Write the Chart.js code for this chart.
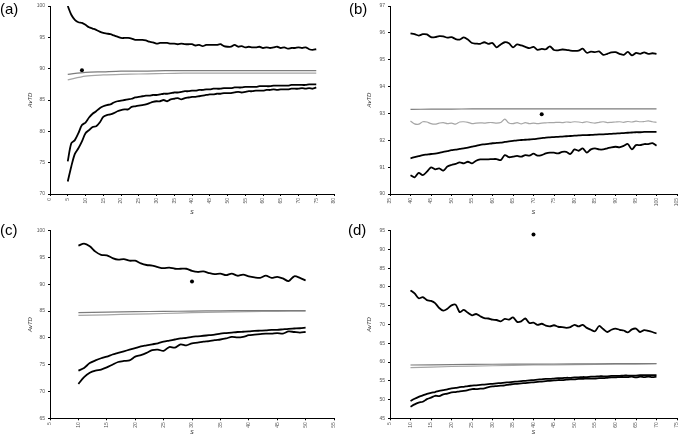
<!DOCTYPE html>
<html>
<head>
<meta charset="utf-8">
<script src="https://cdn.jsdelivr.net/npm/chart.js@4/dist/chart.umd.min.js"></script>
<style>
  body { margin: 0; background: #fff; width: 685px; height: 448px; position: relative; overflow: hidden;
         font-family: "Liberation Sans", Arial, sans-serif; }
  canvas { position: absolute; }
  .tag { position: absolute; font-size: 15px; line-height: 1; color: #000; }
</style>
</head>
<body>
<canvas id="chartA" width="342" height="222" style="left:0;top:0"></canvas>
<canvas id="chartB" width="343" height="222" style="left:342px;top:0"></canvas>
<canvas id="chartC" width="342" height="226" style="left:0;top:222px"></canvas>
<canvas id="chartD" width="343" height="226" style="left:342px;top:222px"></canvas>
<div class="tag" style="left:0;top:1px">(a)</div>
<div class="tag" style="left:349px;top:1px">(b)</div>
<div class="tag" style="left:0;top:222px">(c)</div>
<div class="tag" style="left:348px;top:222px">(d)</div>
<script>
// ---- panel (a) ----
const aUpper = [100.0, 98.6, 97.8, 97.4, 97.3, 97.0, 96.6, 96.4, 96.2, 95.9, 95.7, 95.6, 95.5, 95.3, 95.1, 94.9,
  94.9, 94.9, 94.8, 94.6, 94.6, 94.6, 94.5, 94.3, 94.2, 94.0, 94.1, 94.1, 94.1, 94.0, 94.0, 93.9, 94.0, 93.9,
  93.9, 93.9, 93.7, 93.8, 93.6, 93.8, 93.8, 93.8, 93.8, 93.9, 93.6, 93.5, 93.5, 93.8, 93.5, 93.6, 93.4, 93.5,
  93.4, 93.4, 93.5, 93.3, 93.4, 93.3, 93.4, 93.5, 93.3, 93.4, 93.2, 93.3, 93.3, 93.4, 93.3, 93.4, 93.1, 93.0, 93.1];
const aLow1 = [75.2, 78.1, 78.6, 79.7, 81.0, 81.4, 82.2, 82.8, 83.2, 83.7, 84.0, 84.2, 84.3, 84.6, 84.8, 84.9,
  85.0, 85.1, 85.2, 85.4, 85.5, 85.6, 85.7, 85.7, 85.8, 85.8, 85.9, 86.0, 86.0, 86.1, 86.2, 86.2, 86.3, 86.4,
  86.4, 86.5, 86.5, 86.6, 86.6, 86.7, 86.7, 86.8, 86.8, 86.8, 86.9, 86.9, 86.9, 87.0, 87.0, 87.0, 87.1, 87.1,
  87.1, 87.1, 87.2, 87.2, 87.2, 87.2, 87.3, 87.3, 87.3, 87.3, 87.3, 87.4, 87.4, 87.4, 87.4, 87.4, 87.5, 87.5, 87.5];
const aLow2 = [72.0, 74.4, 76.4, 77.3, 78.4, 79.7, 80.2, 80.7, 80.8, 81.4, 82.3, 82.6, 82.7, 82.9, 83.2, 83.4,
  83.5, 83.5, 83.9, 84.0, 84.1, 84.2, 84.3, 84.5, 84.7, 84.8, 84.8, 85.0, 84.8, 85.1, 85.2, 85.3, 85.1, 85.3,
  85.4, 85.5, 85.5, 85.6, 85.7, 85.8, 85.9, 85.9, 86.0, 86.0, 86.1, 86.1, 86.1, 86.2, 86.3, 86.2, 86.3, 86.4,
  86.4, 86.5, 86.5, 86.5, 86.6, 86.6, 86.7, 86.6, 86.7, 86.7, 86.7, 86.8, 86.8, 86.8, 86.9, 86.8, 86.9, 86.8, 87.0];
const aMidS = [5, 10, 15, 20, 25, 30, 35, 40, 45, 50, 55, 60, 65, 70, 75];
const aMid1 = [89.1, 89.4, 89.5, 89.6, 89.6, 89.65, 89.7, 89.7, 89.7, 89.7, 89.7, 89.7, 89.7, 89.7, 89.7];
const aMid2 = [88.2, 88.8, 89.0, 89.1, 89.15, 89.2, 89.25, 89.3, 89.3, 89.3, 89.3, 89.3, 89.3, 89.3, 89.3];
const aDot = [9, 89.75];

// ---- panel (b) ----
const bUpper = [95.98, 95.95, 95.90, 95.95, 95.94, 95.84, 95.84, 95.88, 95.87, 95.82, 95.84, 95.77, 95.75, 95.83,
  95.75, 95.62, 95.60, 95.59, 95.65, 95.59, 95.62, 95.46, 95.57, 95.65, 95.61, 95.46, 95.57, 95.53, 95.48, 95.43,
  95.48, 95.37, 95.40, 95.39, 95.50, 95.36, 95.35, 95.38, 95.37, 95.34, 95.33, 95.34, 95.41, 95.26, 95.30, 95.28,
  95.31, 95.18, 95.22, 95.27, 95.28, 95.22, 95.18, 95.29, 95.16, 95.25, 95.22, 95.27, 95.22, 95.24, 95.22];
const bLow1 = [91.33, 91.37, 91.41, 91.45, 91.47, 91.49, 91.50, 91.53, 91.57, 91.60, 91.63, 91.65, 91.68, 91.70,
  91.73, 91.76, 91.79, 91.83, 91.85, 91.87, 91.89, 91.90, 91.91, 91.94, 91.96, 91.98, 92.00, 92.01, 92.02, 92.03,
  92.04, 92.06, 92.08, 92.10, 92.11, 92.12, 92.13, 92.14, 92.15, 92.16, 92.17, 92.18, 92.19, 92.19, 92.20, 92.21,
  92.22, 92.22, 92.23, 92.24, 92.25, 92.26, 92.27, 92.28, 92.29, 92.30, 92.30, 92.31, 92.31, 92.31, 92.31];
const bLow2 = [90.70, 90.62, 90.79, 90.70, 90.83, 90.99, 90.92, 90.95, 90.87, 91.02, 91.08, 91.12, 91.18, 91.14,
  91.20, 91.14, 91.24, 91.29, 91.29, 91.29, 91.30, 91.30, 91.26, 91.45, 91.37, 91.39, 91.42, 91.39, 91.45, 91.43,
  91.50, 91.43, 91.45, 91.51, 91.54, 91.54, 91.51, 91.57, 91.57, 91.49, 91.66, 91.61, 91.70, 91.54, 91.66, 91.70,
  91.66, 91.66, 91.70, 91.74, 91.76, 91.74, 91.79, 91.86, 91.66, 91.82, 91.82, 91.86, 91.86, 91.89, 91.80];
const bMidS = [40, 45, 50, 55, 60, 65, 70, 75, 80, 85, 90, 95, 100];
const bMid1 = [93.15, 93.16, 93.16, 93.17, 93.17, 93.17, 93.17, 93.17, 93.17, 93.17, 93.17, 93.17, 93.17];
const bMid2 = [92.72, 92.61, 92.60, 92.69, 92.68, 92.62, 92.60, 92.64, 92.66, 92.62, 92.64, 92.60, 92.68, 92.69,
  92.67, 92.62, 92.64, 92.65, 92.64, 92.66, 92.66, 92.64, 92.66, 92.79, 92.64, 92.62, 92.66, 92.61, 92.66, 92.62,
  92.64, 92.62, 92.64, 92.65, 92.66, 92.66, 92.67, 92.66, 92.68, 92.67, 92.69, 92.68, 92.66, 92.69, 92.66, 92.64,
  92.67, 92.69, 92.66, 92.67, 92.68, 92.69, 92.67, 92.70, 92.68, 92.71, 92.69, 92.70, 92.72, 92.69, 92.67];
const bDot = [72, 92.97];

// ---- panel (c) ----
const cUpper = [97.2, 97.6, 97.1, 96.1, 95.5, 95.4, 94.9, 94.6, 94.7, 94.4, 94.4, 93.9, 93.6, 93.5, 93.2, 93.0,
  93.1, 92.9, 92.9, 92.9, 92.5, 92.3, 92.4, 92.1, 91.9, 92.0, 91.7, 92.0, 91.6, 91.8, 91.5, 91.3, 91.2, 91.6,
  91.2, 91.4, 91.1, 90.6, 91.5, 91.2, 90.7];
const cLow1 = [73.9, 74.4, 75.3, 75.8, 76.2, 76.5, 76.9, 77.2, 77.5, 77.8, 78.1, 78.4, 78.6, 78.8, 79.0, 79.3,
  79.5, 79.7, 79.9, 80.0, 80.2, 80.3, 80.4, 80.5, 80.6, 80.8, 80.9, 81.0, 81.1, 81.15, 81.2, 81.3, 81.35, 81.4,
  81.5, 81.5, 81.6, 81.7, 81.75, 81.8, 81.9];
const cLow2 = [71.4, 72.7, 73.5, 73.9, 74.1, 74.5, 75.0, 75.5, 75.7, 75.8, 76.5, 76.8, 77.2, 77.7, 77.8, 77.6,
  78.3, 78.2, 78.8, 78.6, 79.0, 79.1, 79.3, 79.4, 79.6, 79.7, 79.9, 80.2, 80.1, 80.2, 80.5, 80.6, 80.7, 80.8,
  80.8, 80.9, 80.8, 81.2, 81.1, 81.0, 81.1];
const cMidS = [10, 15, 20, 25, 30, 35, 40, 45, 50];
const cMid1 = [84.7, 84.8, 84.9, 84.95, 85.0, 85.05, 85.1, 85.1, 85.1];
const cMid2 = [84.2, 84.3, 84.45, 84.55, 84.7, 84.8, 84.9, 84.95, 85.0];
const cDot = [30, 90.5];

// ---- panel (d) ----
const dUpper = [79.1, 78.3, 77.0, 77.3, 76.5, 76.3, 75.7, 74.4, 73.7, 74.2, 75.1, 75.3, 73.3, 73.9, 73.1, 72.45,
  72.8, 72.2, 71.7, 71.6, 71.3, 71.2, 70.85, 71.5, 71.3, 71.9, 70.7, 70.85, 71.6, 70.4, 70.5, 69.9, 70.2, 69.7,
  69.5, 69.8, 69.4, 69.3, 69.1, 69.3, 69.9, 69.5, 69.9, 69.1, 68.6, 68.2, 69.6, 68.8, 68.0, 68.6, 68.9, 68.6,
  68.4, 67.9, 68.7, 68.9, 68.0, 68.5, 68.3, 68.0, 67.6];
const dLow1 = [49.6, 50.2, 50.7, 51.1, 51.5, 51.8, 52.0, 52.3, 52.5, 52.7, 53.0, 53.1, 53.3, 53.4, 53.6, 53.7,
  53.8, 53.9, 54.0, 54.1, 54.2, 54.3, 54.4, 54.5, 54.6, 54.7, 54.8, 54.9, 55.0, 55.1, 55.2, 55.3, 55.4, 55.5,
  55.5, 55.6, 55.7, 55.7, 55.8, 55.8, 55.9, 55.9, 56.0, 56.0, 56.1, 56.1, 56.2, 56.2, 56.2, 56.3, 56.3, 56.3,
  56.4, 56.4, 56.4, 56.4, 56.5, 56.5, 56.5, 56.5, 56.5];
const dLow2 = [48.1, 48.7, 49.2, 49.4, 50.1, 50.5, 51.0, 50.9, 51.4, 51.6, 51.9, 52.0, 52.2, 52.3, 52.5, 52.8,
  52.8, 52.9, 53.0, 53.3, 53.5, 53.6, 53.7, 53.8, 54.0, 54.1, 54.2, 54.3, 54.4, 54.5, 54.6, 54.7, 54.8, 54.9,
  55.0, 55.1, 55.2, 55.2, 55.3, 55.4, 55.4, 55.5, 55.5, 55.6, 55.6, 55.6, 55.7, 55.7, 55.8, 55.9, 55.9, 56.0,
  56.0, 56.0, 56.1, 55.9, 56.1, 56.0, 56.1, 56.0, 56.1];
const dMidS = [10, 20, 30, 40, 50, 60, 70];
const dMid1 = [59.2, 59.3, 59.4, 59.45, 59.5, 59.55, 59.6];
const dMid2 = [58.5, 58.8, 59.0, 59.2, 59.3, 59.4, 59.5];
const dDot = [40, 94.0];

Chart.defaults.font.family = '"Liberation Sans", Arial, sans-serif';

// s runs in steps of 1 for the simulated curves
function range(a, b) { const r = []; for (let v = a; v <= b; v++) r.push(v); return r; }
function pts(xs, ys) { return xs.map((x, i) => ({ x: x, y: ys[i] })); }

function line(xs, ys, color, w) {
  return { data: pts(xs, ys), borderColor: color, borderWidth: w, pointRadius: 0, tension: 0.3, fill: false };
}

function panel(id, p) {
  const s = range(p.from, p.to);
  new Chart(document.getElementById(id), {
    type: 'line',
    data: {
      datasets: [
        line(p.midS, p.mid1, '#7c7c7c', 1.2),
        line(p.mid2S || p.midS, p.mid2, '#a6a6a6', 1.2),
        line(s, p.low1, '#000', 1.8),
        line(s, p.low2, '#000', 1.8),
        line(s, p.upper, '#000', 1.8),
        { data: [{ x: p.dot[0], y: p.dot[1] }], showLine: false, pointRadius: 2,
          pointBackgroundColor: '#000', pointBorderWidth: 0 }
      ]
    },
    options: {
      responsive: false,
      animation: false,
      layout: { padding: { left: 0, top: p.padTop, right: p.padRight, bottom: 0 } },
      plugins: { legend: { display: false }, tooltip: { enabled: false } },
      scales: {
        x: {
          type: 'linear', min: p.xMin, max: p.xMax,
          afterFit: sc => { sc.height = p.xHeight; },
          ticks: { stepSize: 5, autoSkip: false, minRotation: 90, maxRotation: 90, padding: 2,
                   color: '#555', font: { size: 5 } },
          grid: { drawOnChartArea: false, color: '#000', tickLength: 2 },
          border: { color: '#000', width: 1 },
          title: { display: true, text: 's', color: '#333', font: { size: 7, style: 'italic' },
                   padding: { top: 0, bottom: p.xTitlePad } }
        },
        y: {
          min: p.yMin, max: p.yMax,
          afterFit: sc => { sc.width = p.yWidth; },
          ticks: { stepSize: p.yStep, padding: 3, color: '#555', font: { size: 5 } },
          grid: { drawOnChartArea: false, color: '#000', tickLength: 2 },
          border: { color: '#000', width: 1 },
          title: { display: true, text: 'AvTD', color: '#333', font: { size: 6, style: 'italic' },
                   padding: { top: p.yTitlePad, bottom: 0 } }
        }
      }
    }
  });
}

panel('chartA', { from: 5, to: 75, upper: aUpper, low1: aLow1, low2: aLow2, midS: aMidS, mid1: aMid1, mid2: aMid2,
  dot: aDot, xMin: 0, xMax: 80, yMin: 70, yMax: 100, yStep: 5,
  padTop: 6, padRight: 6, xHeight: 28, yWidth: 50, xTitlePad: 5.8, yTitlePad: 26.4 });

panel('chartB', { from: 40, to: 100, upper: bUpper, low1: bLow1, low2: bLow2, midS: bMidS, mid1: bMid1,
  mid2S: range(40, 100), mid2: bMid2,
  dot: bDot, xMin: 35, xMax: 105, yMin: 90, yMax: 97, yStep: 1,
  padTop: 6, padRight: 7, xHeight: 28, yWidth: 48, xTitlePad: 5.8, yTitlePad: 23.4 });

panel('chartC', { from: 10, to: 50, upper: cUpper, low1: cLow1, low2: cLow2, midS: cMidS, mid1: cMid1, mid2: cMid2,
  dot: cDot, xMin: 5, xMax: 55, yMin: 65, yMax: 100, yStep: 5,
  padTop: 8.7, padRight: 7.7, xHeight: 29.7, yWidth: 50, xTitlePad: 11.8, yTitlePad: 27 });

panel('chartD', { from: 10, to: 70, upper: dUpper, low1: dLow1, low2: dLow2, midS: dMidS, mid1: dMid1, mid2: dMid2,
  dot: dDot, xMin: 5, xMax: 75, yMin: 45, yMax: 95, yStep: 5,
  padTop: 8.7, padRight: 7.3, xHeight: 29.7, yWidth: 48, xTitlePad: 11.8, yTitlePad: 23.4 });
</script>
</body>
</html>
